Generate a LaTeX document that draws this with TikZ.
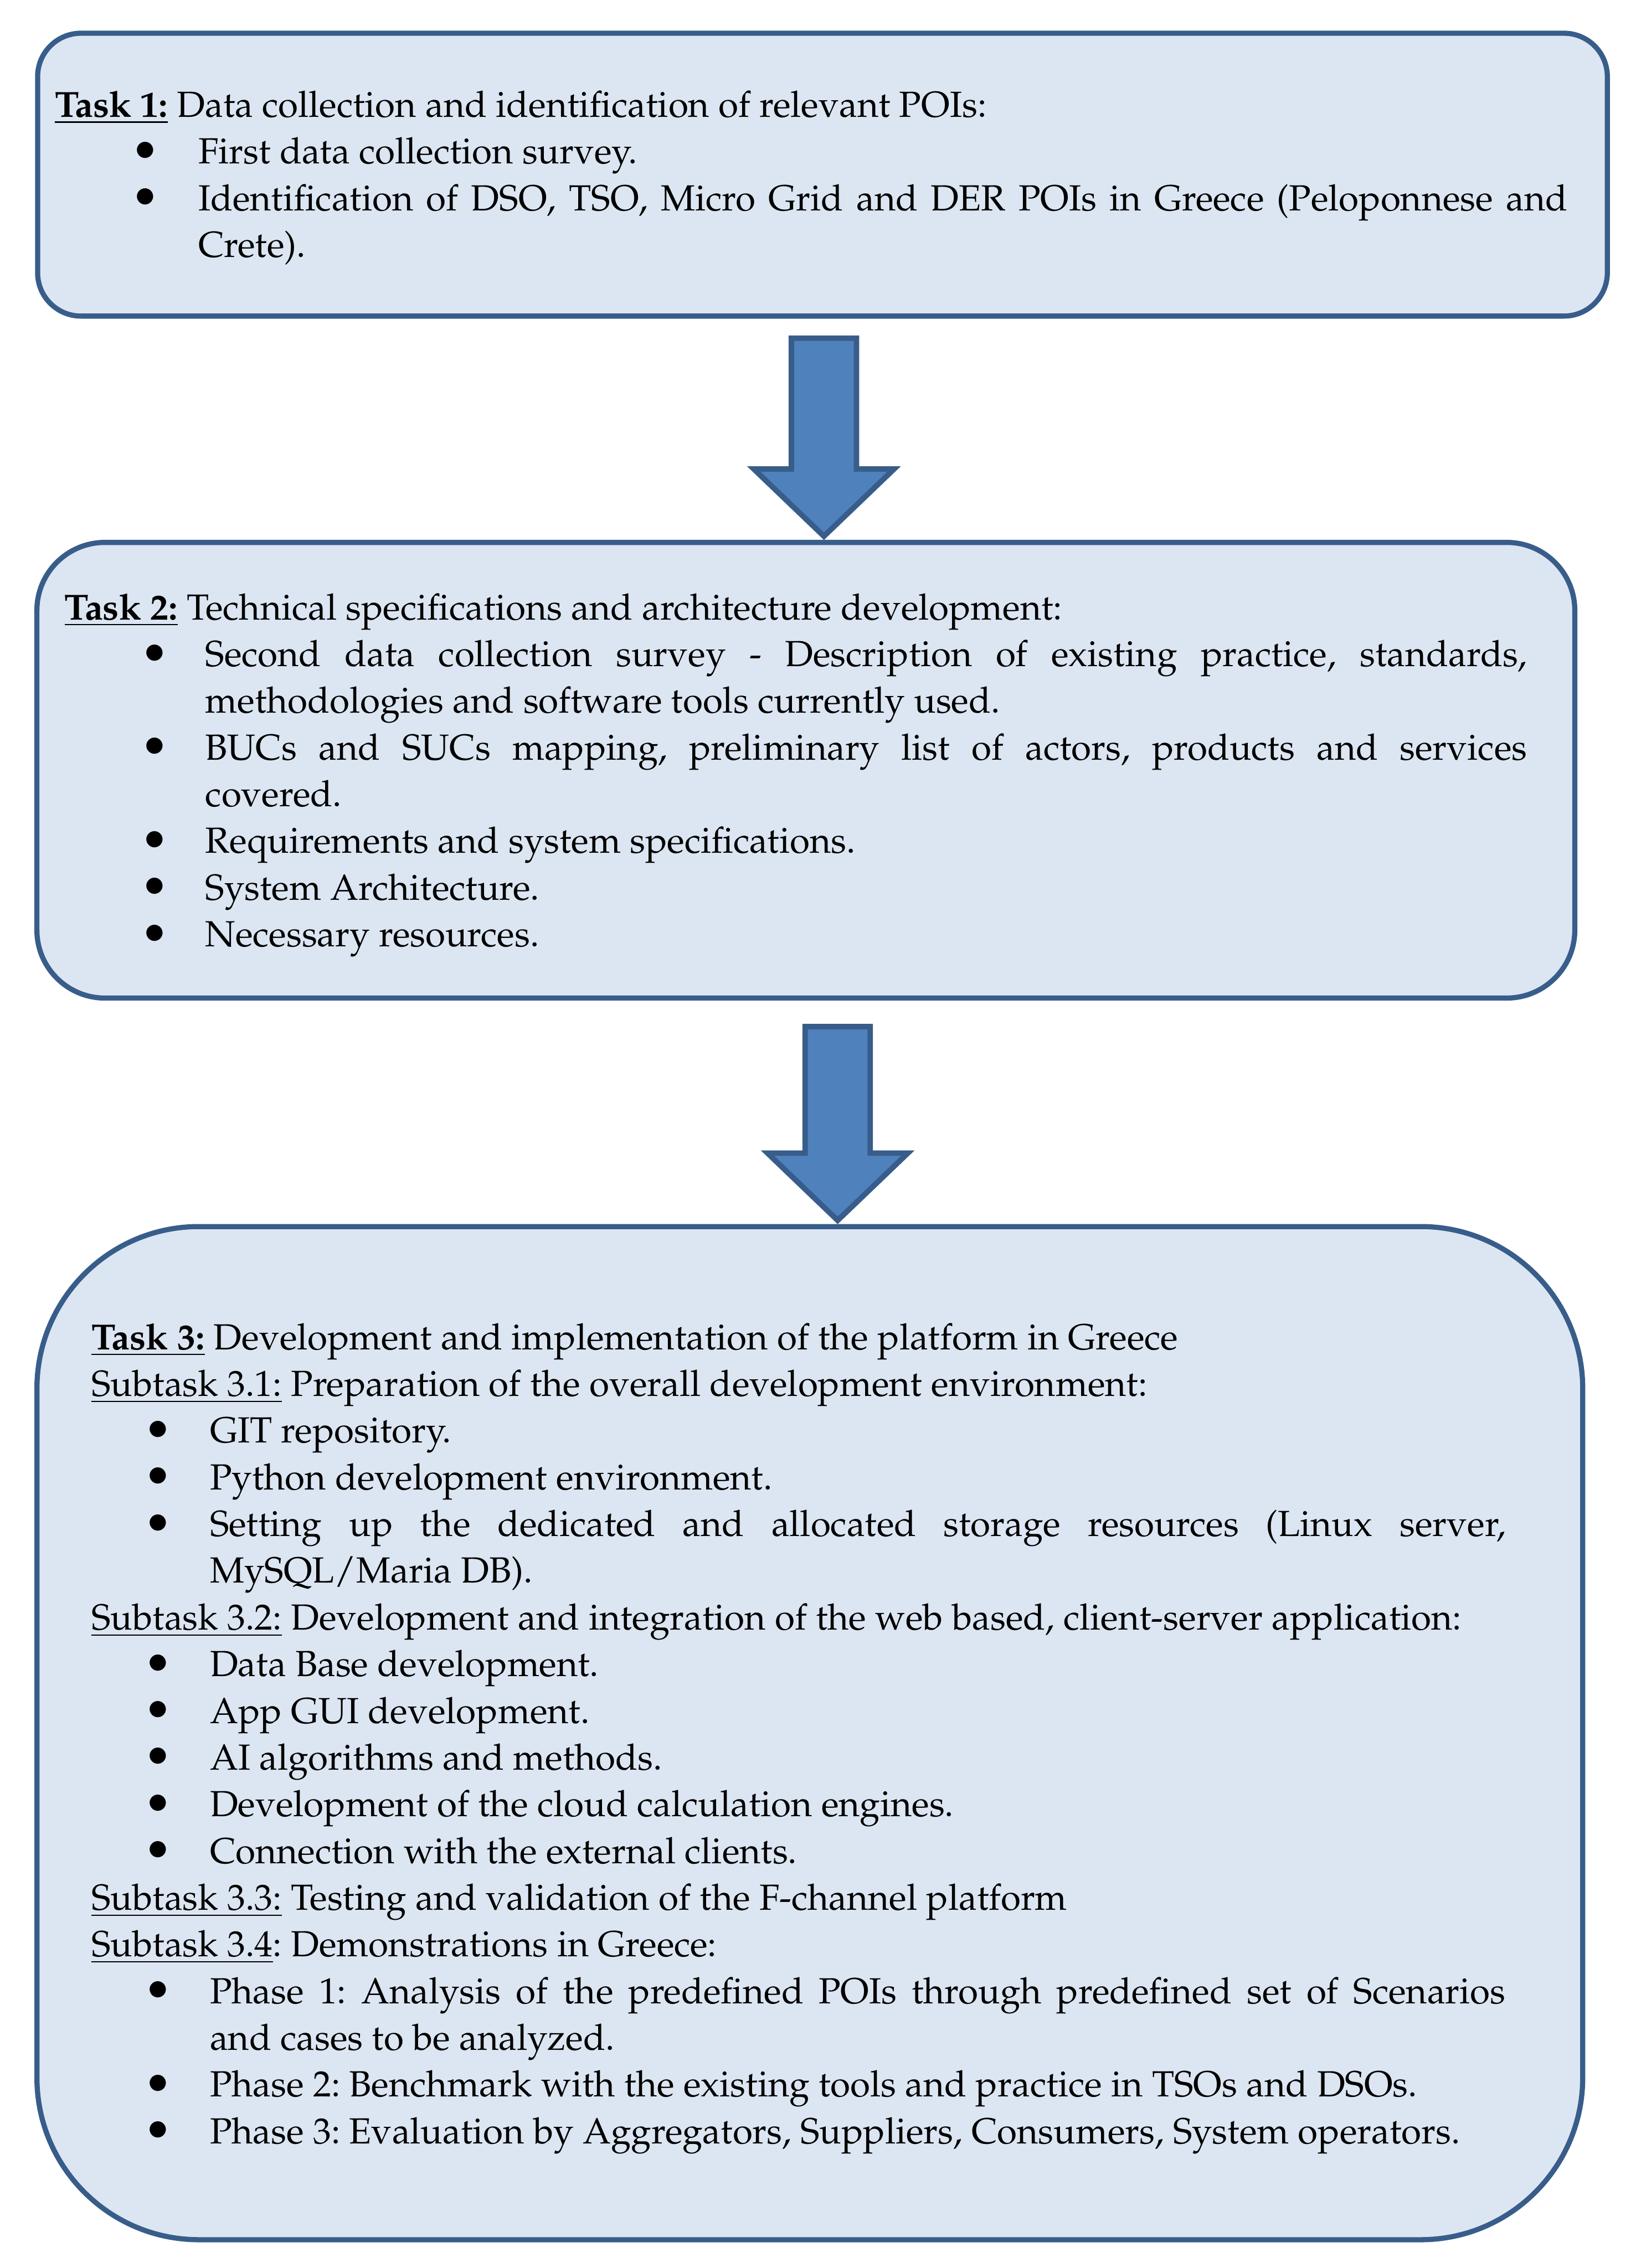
\documentclass[tikz,border=0pt]{standalone}
\usepackage[T1]{fontenc}
\usepackage{palatino}
\usepackage{enumitem}
\usetikzlibrary{calc}

\definecolor{boxfill}{HTML}{DCE6F2}
\definecolor{boxline}{HTML}{385D8A}
\definecolor{arrowfill}{HTML}{4F81BD}

\hyphenpenalty=10000
\exhyphenpenalty=10000
\frenchspacing
\newcommand{\itembullet}{\makebox[0pt]{\raisebox{-0.15ex}{\scalebox{1.3}{\textbullet}}}}
\setlist[itemize]{nosep, labelwidth=0pt, label=\itembullet}

\newcommand{\tasklabel}[1]{\underline{\textbf{#1}}}
\newcommand{\sublabel}[1]{\underline{#1}}

\begin{document}
\begin{tikzpicture}[x=0.45pt,y=-0.45pt,
    taskbox/.style={draw=boxline, fill=boxfill, line width=1.6pt, inner sep=0pt},
    tasktext/.style={anchor=base west, inner sep=0pt, align=justify, font=\fontsize{11.3}{14.53}\selectfont},
    blockarrow/.style={draw=boxline, fill=arrowfill, line width=1.7pt, line join=miter}]
    \useasboundingbox (0,0) rectangle (1134,1568);
    % the three task boxes
    \node[taskbox, rounded corners=13.5pt, minimum width=488.25pt, minimum height=88pt] (task1) at (568.5,120.75) {};
    \node[taskbox, rounded corners=21.15pt, minimum width=478.35pt, minimum height=141.75pt] (task2) at (557,532.5) {};
    \node[taskbox, rounded corners=50.4pt, minimum width=480.8pt, minimum height=315.2pt] (task3) at (559.75,1198.2) {};

    \node[tasktext, text width=470.5pt] (text1) at (37.5,81) {\tasklabel{Task 1:} Data collection and identification of relevant POIs:
        \begin{itemize}[leftmargin=44.6pt, labelsep=16.5pt]
        \item First data collection survey.
        \item Identification of DSO, TSO, Micro Grid and DER POIs in Greece (Peloponnese and\linebreak Crete).
        \end{itemize}};

    \node[tasktext, text width=454.9pt] (text2) at (44.2,428.4) {\tasklabel{Task 2:} Technical specifications and architecture development:
        \begin{itemize}[leftmargin=43.8pt, labelsep=15.7pt]
        \item Second data collection survey - Description of existing practice, standards,\linebreak methodologies and software tools currently used.
        \item BUCs and SUCs mapping, preliminary list of actors, products and services\linebreak covered.
        \item Requirements and system specifications.
        \item System Architecture.
        \item Necessary resources.
        \end{itemize}};

    \node[tasktext, text width=439.8pt] (text3) at (62.9,933) {\tasklabel{Task 3:} Development and implementation of the platform in Greece\par
        \sublabel{Subtask 3.1:} Preparation of the overall development environment:
        \begin{itemize}[leftmargin=36.8pt, labelsep=16.2pt]
        \item GIT repository.
        \item Python development environment.
        \item Setting up the dedicated and allocated storage resources (Linux server,\linebreak MySQL/Maria DB).
        \end{itemize}
        \sublabel{Subtask 3.2:} Development and integration of the web based, client-server application:
        \begin{itemize}[leftmargin=36.8pt, labelsep=16.2pt]
        \item Data Base development.
        \item App GUI development.
        \item AI algorithms and methods.
        \item Development of the cloud calculation engines.
        \item Connection with the external clients.
        \end{itemize}
        \sublabel{Subtask 3.3:} Testing and validation of the F-channel platform\par
        \sublabel{Subtask 3.4}: Demonstrations in Greece:
        \begin{itemize}[leftmargin=36.8pt, labelsep=16.2pt]
        \item Phase 1: Analysis of the predefined POIs through predefined set of Scenarios\linebreak and cases to be analyzed.
        \item Phase 2: Benchmark with the existing tools and practice in TSOs and DSOs.
        \item Phase 3: Evaluation by Aggregators, Suppliers, Consumers, System operators.
        \end{itemize}};

    % block arrows between the boxes
    \coordinate (top1) at ($(task1.south)+(1,13.5)$);
    \coordinate (top2) at ($(task2.south)+(22,18)$);
    \draw[blockarrow] ($(top1)+(-22.5,0)$) -- ++(45,0) -- ($(top1 |- task2.north)+(22.5,-49)$) -- ++(26,0)
        -- ($(top1 |- task2.north)+(0,-2.5)$) -- ($(top1 |- task2.north)+(-48.5,-49)$) -- ++(26,0) -- cycle;
    \draw[blockarrow] ($(top2)+(-22.5,0)$) -- ++(45,0) -- ($(top2 |- task3.north)+(22.5,-49)$) -- ++(26,0)
        -- ($(top2 |- task3.north)+(0,-2.5)$) -- ($(top2 |- task3.north)+(-48.5,-49)$) -- ++(26,0) -- cycle;
\end{tikzpicture}
\end{document}
